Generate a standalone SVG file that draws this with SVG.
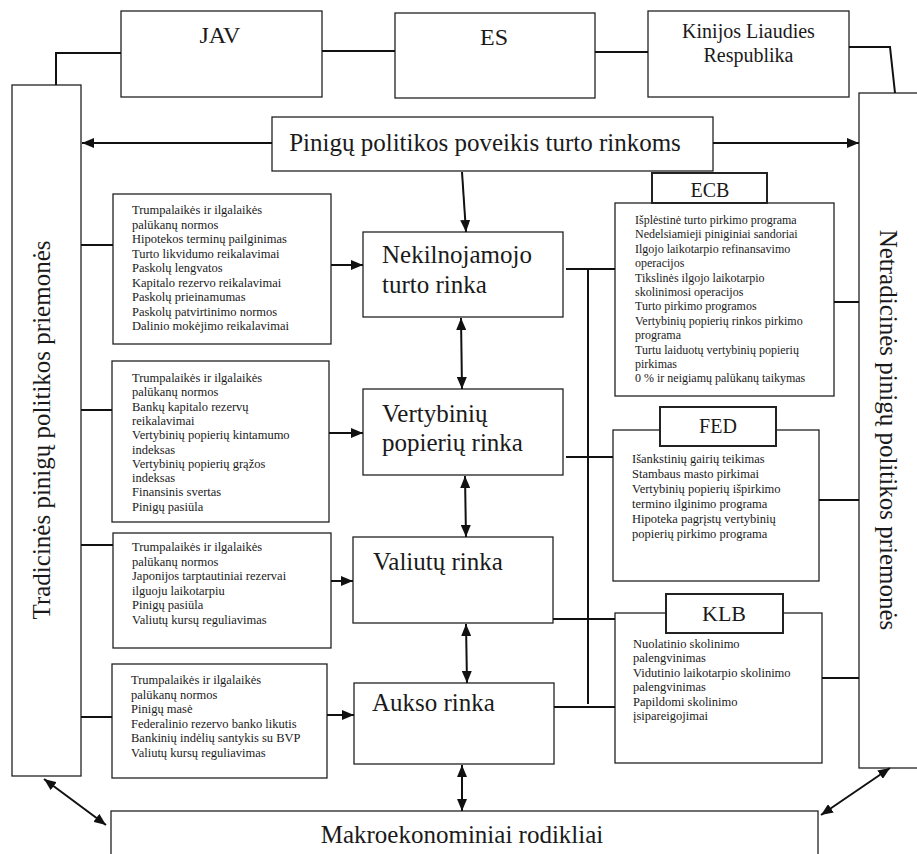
<svg xmlns="http://www.w3.org/2000/svg" width="917" height="854" viewBox="0 0 917 854">
<defs>
<marker id="ah" viewBox="0 0 12 10" refX="12" refY="5" markerWidth="12" markerHeight="10" markerUnits="userSpaceOnUse" orient="auto-start-reverse">
<path d="M0,0 L12,5 L0,10 Z" fill="#111"/>
</marker>
</defs>
<style>
.box{fill:#fff;stroke:#222;stroke-width:1.3}
.hdr{fill:#fff;stroke:#222;stroke-width:2}
.c{fill:none;stroke:#111;stroke-width:2}
.t{font-family:"Liberation Serif","Times New Roman",serif;fill:#1a1a1a}
.big{font-size:25px}
.sm{font-size:12.5px}
.ecb{font-size:12px}
.mid{text-anchor:middle}
</style>
<rect width="917" height="854" fill="#fff"/>

<g id="jav"><rect class="box" x="121" y="11" width="201" height="86"/><text class="t mid" x="220" y="43" font-size="24">JAV</text></g>
<g id="es"><rect class="box" x="395" y="13" width="200" height="85"/><text class="t mid" x="494" y="45" font-size="24">ES</text></g>
<g id="klr"><rect class="box" x="648" y="11" width="201" height="86"/><text class="t mid" x="748.5" y="38" font-size="20">Kinijos Liaudies</text><text class="t mid" x="748.5" y="62" font-size="20">Respublika</text></g>

<g id="tradicines"><rect class="box" x="12" y="85" width="69" height="691"/><text class="t big mid" transform="translate(50,430) rotate(-90)">Tradicinės pinigų politikos priemonės</text></g>
<g id="netradicines"><rect class="box" x="859" y="93" width="70" height="675"/><text class="t big mid" transform="translate(880,430) rotate(90)">Netradicinės pinigų politikos priemonės</text></g>

<g id="poveikis"><rect class="box" x="272" y="117" width="441" height="54"/><text class="t big mid" x="485" y="151">Pinigų politikos poveikis turto rinkoms</text></g>

<g id="nekilnojamojo"><rect class="box" x="363" y="232" width="200" height="85"/><text class="t big" x="382" y="263">Nekilnojamojo</text><text class="t big" x="382" y="293">turto rinka</text></g>
<g id="vertybiniu"><rect class="box" x="363" y="389" width="200" height="86"/><text class="t big" x="382" y="422">Vertybinių</text><text class="t big" x="382" y="451">popierių rinka</text></g>
<g id="valiutu"><rect class="box" x="353" y="537" width="200" height="86"/><text class="t big" x="373" y="570">Valiutų rinka</text></g>
<g id="aukso"><rect class="box" x="354" y="683" width="200" height="81"/><text class="t big" x="372" y="711">Aukso rinka</text></g>

<g id="makro"><rect class="box" x="111" y="811" width="707" height="70"/><text class="t big mid" x="462" y="843">Makroekonominiai rodikliai</text></g>

<g id="l1"><rect class="box" x="113" y="194" width="218" height="150"/>
<text class="t sm"><tspan x="132" y="214">Trumpalaikės ir ilgalaikės</tspan><tspan x="132" y="228.5">palūkanų normos</tspan><tspan x="132" y="243">Hipotekos terminų pailginimas</tspan><tspan x="132" y="257.5">Turto likvidumo reikalavimai</tspan><tspan x="132" y="272">Paskolų lengvatos</tspan><tspan x="132" y="286.5">Kapitalo rezervo reikalavimai</tspan><tspan x="132" y="301">Paskolų prieinamumas</tspan><tspan x="132" y="315.5">Paskolų patvirtinimo normos</tspan><tspan x="132" y="330">Dalinio mokėjimo reikalavimai</tspan></text></g>

<g id="l2"><rect class="box" x="112" y="361" width="217" height="161"/>
<text class="t sm"><tspan x="132" y="382">Trumpalaikės ir ilgalaikės</tspan><tspan x="132" y="396.3">palūkanų normos</tspan><tspan x="132" y="410.6">Bankų kapitalo rezervų</tspan><tspan x="132" y="424.9">reikalavimai</tspan><tspan x="132" y="439.2">Vertybinių popierių kintamumo</tspan><tspan x="132" y="453.5">indeksas</tspan><tspan x="132" y="467.8">Vertybinių popierių grąžos</tspan><tspan x="132" y="482.1">indeksas</tspan><tspan x="132" y="496.4">Finansinis svertas</tspan><tspan x="132" y="510.7">Pinigų pasiūla</tspan></text></g>

<g id="l3"><rect class="box" x="113" y="533" width="218" height="115"/>
<text class="t sm"><tspan x="132" y="551">Trumpalaikės ir ilgalaikės</tspan><tspan x="132" y="565.5">palūkanų normos</tspan><tspan x="132" y="580">Japonijos tarptautiniai rezervai</tspan><tspan x="132" y="594.5">ilguoju laikotarpiu</tspan><tspan x="132" y="609">Pinigų pasiūla</tspan><tspan x="132" y="623.5">Valiutų kursų reguliavimas</tspan></text></g>

<g id="l4"><rect class="box" x="112" y="664" width="215" height="114"/>
<text class="t sm"><tspan x="131" y="684">Trumpalaikės ir ilgalaikės</tspan><tspan x="131" y="698.5">palūkanų normos</tspan><tspan x="131" y="713">Pinigų masė</tspan><tspan x="131" y="727.5">Federalinio rezervo banko likutis</tspan><tspan x="131" y="742">Bankinių indėlių santykis su BVP</tspan><tspan x="131" y="756.5">Valiutų kursų reguliavimas</tspan></text></g>

<g id="ecb"><rect class="box" x="615" y="203" width="219" height="193"/>
<rect class="hdr" x="652" y="173" width="115" height="30"/><text class="t mid" x="710" y="197" font-size="20">ECB</text>
<text class="t ecb"><tspan x="635" y="224">Išplėstinė turto pirkimo programa</tspan><tspan x="635" y="238.4">Nedelsiamieji piniginiai sandoriai</tspan><tspan x="635" y="252.8">Ilgojo laikotarpio refinansavimo</tspan><tspan x="635" y="267.2">operacijos</tspan><tspan x="635" y="281.6">Tikslinės ilgojo laikotarpio</tspan><tspan x="635" y="296">skolinimosi operacijos</tspan><tspan x="635" y="310.4">Turto pirkimo programos</tspan><tspan x="635" y="324.8">Vertybinių popierių rinkos pirkimo</tspan><tspan x="635" y="339.2">programa</tspan><tspan x="635" y="353.6">Turtu laiduotų vertybinių popierių</tspan><tspan x="635" y="368">pirkimas</tspan><tspan x="635" y="382.4">0 % ir neigiamų palūkanų taikymas</tspan></text></g>

<g id="fed"><rect class="box" x="613" y="430" width="206" height="151"/>
<rect class="hdr" x="660" y="407" width="116" height="39"/><text class="t mid" x="718" y="433" font-size="20">FED</text>
<text class="t sm"><tspan x="632" y="463">Išankstinių gairių teikimas</tspan><tspan x="632" y="478">Stambaus masto pirkimai</tspan><tspan x="632" y="493">Vertybinių popierių išpirkimo</tspan><tspan x="632" y="508">termino ilginimo programa</tspan><tspan x="632" y="523">Hipoteka pagrįstų vertybinių</tspan><tspan x="632" y="538">popierių pirkimo programa</tspan></text></g>

<g id="klb"><rect class="box" x="615" y="613" width="207" height="150"/>
<rect class="hdr" x="666" y="594" width="117" height="39"/><text class="t mid" x="724" y="621" font-size="22">KLB</text>
<text class="t sm"><tspan x="633" y="648">Nuolatinio skolinimo</tspan><tspan x="633" y="662.4">palengvinimas</tspan><tspan x="633" y="676.8">Vidutinio laikotarpio skolinimo</tspan><tspan x="633" y="691.2">palengvinimas</tspan><tspan x="633" y="705.6">Papildomi skolinimo</tspan><tspan x="633" y="720">įsipareigojimai</tspan></text></g>

<g id="connectors">
<line class="c" x1="322" y1="51" x2="395" y2="51"/>
<line class="c" x1="595" y1="52" x2="648" y2="52"/>
<polyline class="c" points="121,53 56,53 56,85"/>
<polyline class="c" points="849,47 890,47 895,93"/>
<line class="c" x1="272" y1="143" x2="82" y2="143" marker-end="url(#ah)"/>
<line class="c" x1="713" y1="143" x2="859" y2="143" marker-end="url(#ah)"/>
<line class="c" x1="462" y1="172" x2="466" y2="232" marker-end="url(#ah)"/>
<line class="c" x1="461" y1="318" x2="462" y2="389" marker-start="url(#ah)" marker-end="url(#ah)"/>
<line class="c" x1="465" y1="476" x2="466" y2="537" marker-start="url(#ah)" marker-end="url(#ah)"/>
<line class="c" x1="466" y1="624" x2="467" y2="683" marker-start="url(#ah)" marker-end="url(#ah)"/>
<line class="c" x1="462" y1="765" x2="462" y2="811" marker-start="url(#ah)" marker-end="url(#ah)"/>
<line class="c" x1="44" y1="779" x2="106" y2="825" marker-start="url(#ah)" marker-end="url(#ah)"/>
<line class="c" x1="890" y1="768" x2="821" y2="815" marker-start="url(#ah)" marker-end="url(#ah)"/>
<line class="c" x1="81" y1="245" x2="113" y2="245"/>
<line class="c" x1="331" y1="265" x2="363" y2="265" marker-end="url(#ah)"/>
<line class="c" x1="81" y1="410" x2="112" y2="410"/>
<line class="c" x1="329" y1="433" x2="363" y2="433" marker-end="url(#ah)"/>
<line class="c" x1="81" y1="545" x2="113" y2="545"/>
<line class="c" x1="331" y1="581" x2="353" y2="581" marker-end="url(#ah)"/>
<line class="c" x1="81" y1="717" x2="112" y2="717"/>
<line class="c" x1="327" y1="715" x2="354" y2="715" marker-end="url(#ah)"/>
<line class="c" x1="566" y1="269" x2="615" y2="269"/>
<line class="c" x1="588" y1="269" x2="588" y2="704"/>
<line class="c" x1="566" y1="457" x2="613" y2="457"/>
<line class="c" x1="553" y1="619" x2="615" y2="619"/>
<line class="c" x1="554" y1="707" x2="615" y2="707"/>
<line class="c" x1="834" y1="302" x2="859" y2="302"/>
<line class="c" x1="819" y1="500" x2="859" y2="500"/>
<line class="c" x1="822" y1="678" x2="859" y2="678"/>
</g>
</svg>
